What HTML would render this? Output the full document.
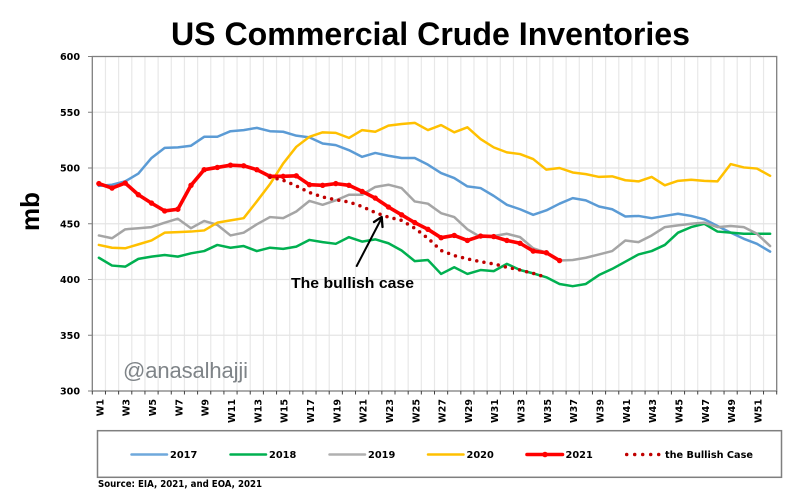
<!DOCTYPE html>
<html lang="en">
<head>
<meta charset="utf-8">
<title>US Commercial Crude Inventories</title>
<style>
html,body{margin:0;padding:0;background:#fff;}
#chart{display:block;width:798px;height:498px;}
text{font-family:"DejaVu Sans","Liberation Sans",sans-serif;}
</style>
</head>
<body>
<svg id="chart" xmlns="http://www.w3.org/2000/svg" width="798" height="498" viewBox="0 0 798 498">
  <rect x="0" y="0" width="798" height="498" fill="#ffffff"/>
  <text x="171" y="45" font-size="32" font-weight="700" fill="#000" textLength="519" lengthAdjust="spacingAndGlyphs" style="font-family:'Liberation Sans',sans-serif">US Commercial  Crude Inventories</text>
  <text transform="translate(39,231) rotate(-90)" font-size="26" font-weight="700" fill="#000" style="font-family:'Liberation Sans',sans-serif">mb</text>
  <g id="grid"></g>
  <g id="axes"></g>
  <g id="series"></g>
  <text x="123" y="378" font-size="22" fill="#7f8488" textLength="125" lengthAdjust="spacing" style="font-family:'Liberation Sans',sans-serif">@anasalhajji</text>
  <text x="291" y="288" font-size="15" font-weight="700" fill="#000" textLength="123" lengthAdjust="spacingAndGlyphs" style="font-family:'Liberation Sans',sans-serif">The bullish case</text>
  <g fill="none" stroke="#000" stroke-width="2" stroke-linecap="round" stroke-linejoin="round">
    <path d="M356.7 266 L381.7 218"/>
    <path d="M374 222 L381.7 217 L382.5 227" stroke-width="2.3"/>
  </g>
  <rect x="97.5" y="430.7" width="684" height="46.6" fill="#ffffff" stroke="#7f7f7f" stroke-width="1.5"/>
  <g id="legend"></g>
  <text x="98" y="487" font-size="9.5" font-weight="700" fill="#000" textLength="164" lengthAdjust="spacingAndGlyphs">Source: EIA, 2021, and EOA, 2021</text>
</svg>
<script>
const yTicks = [300, 350, 400, 450, 500, 550, 600];
const weeks = ["W1","W2","W3","W4","W5","W6","W7","W8","W9","W10","W11","W12","W13","W14","W15","W16","W17","W18","W19","W20","W21","W22","W23","W24","W25","W26","W27","W28","W29","W30","W31","W32","W33","W34","W35","W36","W37","W38","W39","W40","W41","W42","W43","W44","W45","W46","W47","W48","W49","W50","W51","W52"];
const values2017 = [484,485,488,495,509,518,518.5,520,528,528,533,534,536,533,532.5,529,527.5,522,520.5,516,510,513.5,511,509,509,503,495.5,491,483.5,482,475,467,463,458,462,468,473,471,465.5,463,456.5,457,455,457,459,457,454,448,442,436.5,432,425];
const values2018 = [419.5,412.5,411.5,418.5,420.5,422,420.5,423.5,425.5,431,428.5,430,425.5,428.5,427.5,429.5,435.5,433.5,432,438,434,436,432.5,426,416.5,417.5,405,411,405,408.5,407.5,414,408.5,405.5,402,396,394,396,404,409.5,416,422.5,425.5,431,442,447,450,443,442,441,441,441];
const values2019 = [439.5,437,445,446,447,451,454.5,446,452.5,449,439.5,442,449.5,456,455,461,470.5,467,471,476,476,483,485,482,470,468,459.5,456,445,438,439,441,438,428,424,417,417.5,419.5,422.5,425.5,435,433.5,439.5,447,448.5,450,451,447,448,447,441,430];
const values2020 = [431,428.5,428,431.5,435,442,442.5,443,444,451,453,455,470,485.5,504,519,528,532,531.5,527,534,532.5,538,539.5,540.5,534,538.5,532,536.5,526,518.5,514,512.5,508,498.5,500,496,494.5,492,492.5,489,488,492,484.5,488.5,489.5,488.5,488,503.5,500.5,499.5,493];
const values2021 = [486,482,486.5,476,468.5,461.5,463,484.5,498.5,500.5,502.5,502,498.5,492.5,492.5,493,485,484.5,486,484.5,479,473,465,458,451,445,437.5,439.5,435,439,438.5,435,432.5,425.5,424,417];
const valuesBullish = [null,null,null,null,null,null,null,null,null,null,null,null,null,492,489,484,478,474,471.5,469.5,465.5,460,456,453,446,437,426,421.5,418.5,416,414,411,408.5,405.5,402];
const seriesNames = ["2017","2018","2019","2020","2021","the Bullish Case"];

const NS = "http://www.w3.org/2000/svg";
const plot = {left: 92.3, right: 776.7, top: 56.5, bottom: 391};
const yMin = 300, yMax = 600;
function xBand(i){ return plot.left + (plot.right - plot.left) * i / weeks.length; }
function xScale(i){ return xBand(i + 0.5); }
function yScale(v){ return plot.bottom - (v - yMin) / (yMax - yMin) * (plot.bottom - plot.top); }
function make(tag, attrs, parent){
  const el = document.createElementNS(NS, tag);
  for (const k in attrs) el.setAttribute(k, attrs[k]);
  parent.appendChild(el);
  return el;
}
function linePath(vals){
  let d = "", started = false;
  vals.forEach((v, i) => {
    if (v === null) return;
    d += (started ? " L" : "M") + xScale(i).toFixed(2) + " " + yScale(v).toFixed(2);
    started = true;
  });
  return d;
}

const grid = document.getElementById("grid");
const axes = document.getElementById("axes");
const seriesG = document.getElementById("series");
const legend = document.getElementById("legend");

for (let i = 1; i < weeks.length; i++) {
  const gl = make("line", {x1: xBand(i), x2: xBand(i), y1: plot.top, y2: plot.bottom, stroke: "#e8e8e8", "stroke-width": 1.2}, grid);
  
  
}
yTicks.forEach(t => {
  if (t === yMin || t === yMax) return;
  const gl = make("line", {x1: plot.left, x2: plot.right, y1: yScale(t), y2: yScale(t), stroke: "#e4e4e4", "stroke-width": 1.2}, grid);
  
  
});

const frame = make("rect", {x: plot.left, y: plot.top, width: plot.right - plot.left, height: plot.bottom - plot.top, fill: "none", stroke: "#7f7f7f", "stroke-width": 1.3}, axes);



yTicks.forEach(t => {
  const y = yScale(t);
  const tick = make("line", {x1: 88, x2: plot.left, y1: y, y2: y, stroke: "#7f7f7f", "stroke-width": 1}, axes);
  
  
  const label = make("text", {x: 80, y: y + 3.6, "text-anchor": "end", "font-size": 9.6, "font-weight": 700, fill: "#000"}, axes);
  
  
  label.textContent = t;
});
for (let i = 0; i <= weeks.length; i++) {
  const tick = make("line", {x1: xBand(i), x2: xBand(i), y1: plot.bottom, y2: plot.bottom + 3.5, stroke: "#404040", "stroke-width": 1}, axes);
  
  
}
weeks.forEach((w, i) => {
  if (i % 2 !== 0) return;
  const x = xScale(i) + 4.5;
  const label = make("text", {transform: "translate(" + x + ",399) rotate(-90)", "text-anchor": "end", "font-size": 9.6, "font-weight": 700, fill: "#000"}, axes);
  
  
  label.textContent = w;
});

const seriesData = [values2017, values2018, values2019, values2020];
const seriesColors = ["#5b9bd5", "#00b050", "#a5a5a5", "#ffc000"];
seriesData.forEach((vals, k) => {
  const p = make("path", {d: linePath(vals), fill: "none", stroke: seriesColors[k], "stroke-width": 2.5, "stroke-linejoin": "round", "stroke-linecap": "round"}, seriesG);
  
  
});

const redLine = make("path", {d: linePath(values2021), fill: "none", stroke: "#ff0000", "stroke-width": 3.6, "stroke-linejoin": "round", "stroke-linecap": "round"}, seriesG);


values2021.forEach((v, i) => {
  const m = make("circle", {cx: xScale(i), cy: yScale(v), r: 2.7, fill: "#ff0000"}, seriesG);
  
  
});
const dotLine = make("path", {d: linePath(valuesBullish), fill: "none", stroke: "#c00000", "stroke-width": 3.5, "stroke-linecap": "round", "stroke-dasharray": "0 7.3"}, seriesG);



const legendLineX = [131.5, 230.5, 329.5, 428, 527];
const legendColors = ["#6fa8dc", "#00b050", "#b0b0b0", "#ffc000", "#ff0000"];
const legendY = 454.5;
legendLineX.forEach((x, k) => {
  const l = make("line", {x1: x, x2: x + 35.5, y1: legendY, y2: legendY, stroke: legendColors[k], "stroke-width": k === 4 ? 3.6 : 2.5, "stroke-linecap": "round"}, legend);
  
  
  if (k === 4) {
    const m = make("circle", {cx: x + 18, cy: legendY, r: 2.8, fill: "#ff0000"}, legend);
    
    
  }
  const t = make("text", {x: x + 38.5, y: legendY + 3.6, "font-size": 9.8, "font-weight": 700, fill: "#000"}, legend);
  
  
  t.textContent = seriesNames[k];
});
const legendDots = make("line", {x1: 626.7, x2: 660, y1: legendY, y2: legendY, stroke: "#c00000", "stroke-width": 3.5, "stroke-linecap": "round", "stroke-dasharray": "0 8"}, legend);


const legendDotsLabel = make("text", {x: 665, y: legendY + 3.6, "font-size": 9.8, "font-weight": 700, fill: "#000", textLength: 88, lengthAdjust: "spacingAndGlyphs"}, legend);


legendDotsLabel.textContent = seriesNames[5];
</script>
</body>
</html>
